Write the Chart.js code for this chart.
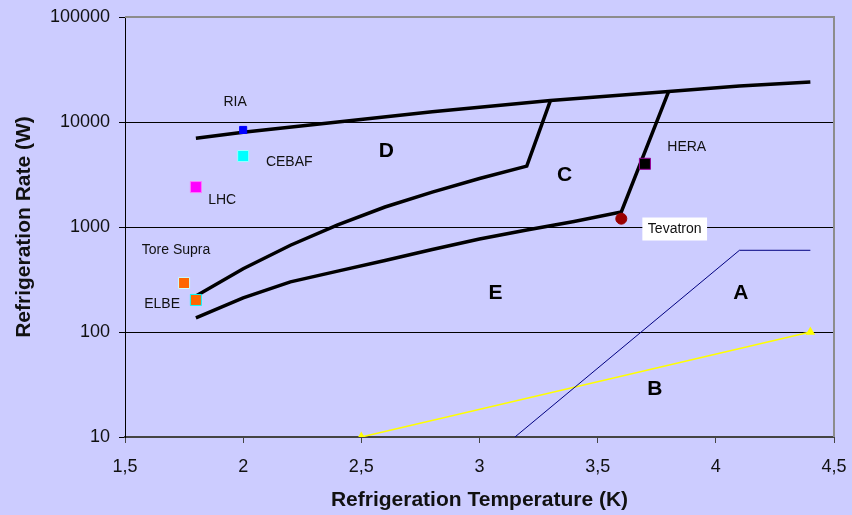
<!DOCTYPE html>
<html>
<head>
<meta charset="utf-8">
<style>
  html, body { margin: 0; padding: 0; background: #ccccff; }
  #wrap { width: 852px; height: 515px; }
</style>
<script src="https://cdn.jsdelivr.net/npm/chart.js@4.4.0/dist/chart.umd.min.js"></script>
</head>
<body>
<div id="wrap"><canvas id="refChart" width="852" height="515"></canvas></div>
<script>
// boundary curves (temperature K, rate W)
const lineD_T = [1.8, 2.0, 2.4, 2.8, 3.3, 3.8, 4.1, 4.4];
const lineD_W = [7000, 8000, 10000, 12500, 16000, 19500, 22000, 24000];

const lineC_T = [1.8, 2.0, 2.2, 2.4, 2.6, 2.8, 3.0, 3.2, 3.3];
const lineC_W = [220, 400, 670, 1050, 1550, 2150, 2900, 3800, 16000];

const lineE_T = [1.8, 2.0, 2.2, 2.4, 2.6, 2.8, 3.0, 3.2, 3.4, 3.6, 3.8];
const lineE_W = [136, 211, 300, 380, 480, 610, 770, 935, 1130, 1390, 19500];

const lineA_T = [3.15, 4.1, 4.4];
const lineA_W = [10, 600, 600];

const lineB_T = [2.5, 4.4];
const lineB_W = [10, 100];

// facilities
const plants = ['RIA', 'CEBAF', 'LHC', 'Tore Supra', 'ELBE', 'HERA', 'Tevatron'];
const plantT = [2.0, 2.0, 1.8, 1.75, 1.8, 3.7, 3.6];
const plantW = [8400, 4740, 2400, 293, 202, 4000, 1200];

// tick labels
const yTicks = [10, 100, 1000, 10000, 100000];

// text annotations, placed in data units
const plantLabelT = [1.966, 2.195, 1.911, 1.716, 1.657, 3.877, 3.826];
const plantLabelW = [15500, 4160, 1807, 604, 185, 5780, 957];
const regions = ['D', 'C', 'E', 'A', 'B'];
const regionT = [2.606, 3.36, 3.068, 4.106, 3.742];
const regionW = [5300, 3130, 235, 235, 28.7];

const pts = (xs, ys) => xs.map((x, i) => ({ x: x, y: ys[i] }));

const markerStyle = {
  'RIA':        { bg: '#0000ff', border: '#0000ff', r: 5, style: 'rect' },
  'CEBAF':      { bg: '#00ffff', border: '#99ffff', r: 7.8, style: 'rect' },
  'LHC':        { bg: '#ff00ff', border: '#ff77ff', r: 7.8, style: 'rect' },
  'Tore Supra': { bg: '#ff6600', border: '#ccffff', r: 7.8, style: 'rect' },
  'ELBE':       { bg: '#ff6600', border: '#00ffff', r: 7.8, style: 'rect' },
  'HERA':       { bg: '#000000', border: '#990099', r: 7.8, style: 'rect' },
  'Tevatron':   { bg: '#990000', border: '#990000', r: 5.5, style: 'circle' }
};

const markerSets = plants.map((name, i) => ({
  label: name,
  data: [{ x: plantT[i], y: plantW[i] }],
  showLine: false,
  pointStyle: markerStyle[name].style,
  pointRadius: markerStyle[name].r,
  pointBackgroundColor: markerStyle[name].bg,
  pointBorderColor: markerStyle[name].border,
  pointBorderWidth: 1
}));

function curve(label, xs, ys, color, width) {
  return {
    label: label,
    data: pts(xs, ys),
    showLine: true,
    borderColor: color,
    borderWidth: width,
    pointRadius: 0,
    tension: 0,
    fill: false
  };
}

const bgPlugin = {
  id: 'bg',
  beforeDraw(chart) {
    const c = chart.ctx;
    c.save();
    c.fillStyle = '#ccccff';
    c.fillRect(0, 0, chart.width, chart.height);
    c.restore();
  }
};

const framePlugin = {
  id: 'frame',
  afterDraw(chart) {
    const a = chart.chartArea;
    const c = chart.ctx;
    c.save();
    c.strokeStyle = '#8c8c8c';
    c.lineWidth = 2;
    c.beginPath();
    c.moveTo(a.left, a.top);
    c.lineTo(a.right, a.top);
    c.lineTo(a.right, a.bottom);
    c.stroke();
    c.restore();
  }
};

const labelPlugin = {
  id: 'labels',
  afterDatasetsDraw(chart) {
    const c = chart.ctx;
    const xs = chart.scales.x, ys = chart.scales.y;
    c.save();
    c.textAlign = 'center';
    c.textBaseline = 'middle';
    c.font = '14px "Liberation Sans", Arial, sans-serif';
    plants.forEach((name, i) => {
      const px = xs.getPixelForValue(plantLabelT[i]);
      const py = ys.getPixelForValue(plantLabelW[i]);
      if (name === 'Tevatron') {
        const w = c.measureText(name).width + 11;
        c.fillStyle = '#ffffff';
        c.fillRect(px - w / 2, py - 11.5, w, 23);
      }
      c.fillStyle = '#111111';
      c.fillText(name, px, py);
    });
    c.font = 'bold 21px "Liberation Sans", Arial, sans-serif';
    c.fillStyle = '#000000';
    regions.forEach((r, i) => {
      c.fillText(r, xs.getPixelForValue(regionT[i]), ys.getPixelForValue(regionW[i]));
    });
    c.restore();
  }
};

const ctx = document.getElementById('refChart').getContext('2d');
new Chart(ctx, {
  type: 'scatter',
  data: {
    datasets: markerSets.concat([
      curve('D', lineD_T, lineD_W, '#000000', 3.5),
      curve('C', lineC_T, lineC_W, '#000000', 3.5),
      curve('E', lineE_T, lineE_W, '#000000', 3.5),
      curve('A', lineA_T, lineA_W, '#000080', 1),
      Object.assign(curve('B', lineB_T, lineB_W, '#ffff00', 1.5), {
        pointRadius: 4,
        pointStyle: 'triangle',
        pointBackgroundColor: '#ffff00',
        pointBorderColor: '#ffff00'
      })
    ])
  },
  options: {
    responsive: false,
    animation: false,
    events: [],
    layout: { padding: { left: 0, top: 17, right: 18, bottom: 0 } },
    plugins: {
      legend: { display: false },
      tooltip: { enabled: false }
    },
    scales: {
      x: {
        type: 'linear',
        min: 1.5,
        max: 4.5,
        afterFit(scale) {
          scale.height = 78;
          scale.paddingLeft = 0;
          scale.paddingRight = 0;
        },
        ticks: {
          stepSize: 0.5,
          padding: 13,
          color: '#111111',
          font: { size: 18, family: '"Liberation Sans", Arial, sans-serif' },
          callback: v => String(Math.round(v * 10) / 10).replace('.', ',')
        },
        grid: { drawOnChartArea: false, drawTicks: true, tickLength: 6, color: '#444444' },
        border: { color: '#444444', width: 2 },
        title: {
          display: true,
          text: 'Refrigeration Temperature (K)',
          color: '#111111',
          padding: { top: 0, bottom: 2 },
          font: { size: 21, weight: 'bold', family: '"Liberation Sans", Arial, sans-serif' }
        }
      },
      y: {
        type: 'logarithmic',
        min: 10,
        max: 100000,
        afterFit(scale) {
          scale.width = 125;
          scale.paddingTop = 0;
          scale.paddingBottom = 0;
        },
        afterBuildTicks(scale) { scale.ticks = yTicks.map(v => ({ value: v })); },
        ticks: {
          padding: 9,
          color: '#111111',
          font: { size: 18, family: '"Liberation Sans", Arial, sans-serif' },
          callback: v => String(v)
        },
        grid: { color: '#000000', lineWidth: 1, tickLength: 6, tickColor: '#000000' },
        border: { color: '#000000', width: 1 },
        title: {
          display: true,
          text: 'Refrigeration Rate (W)',
          color: '#111111',
          padding: { top: 12, bottom: 0 },
          font: { size: 21, weight: 'bold', family: '"Liberation Sans", Arial, sans-serif' }
        }
      }
    }
  },
  plugins: [bgPlugin, framePlugin, labelPlugin]
});
</script>
</body>
</html>
